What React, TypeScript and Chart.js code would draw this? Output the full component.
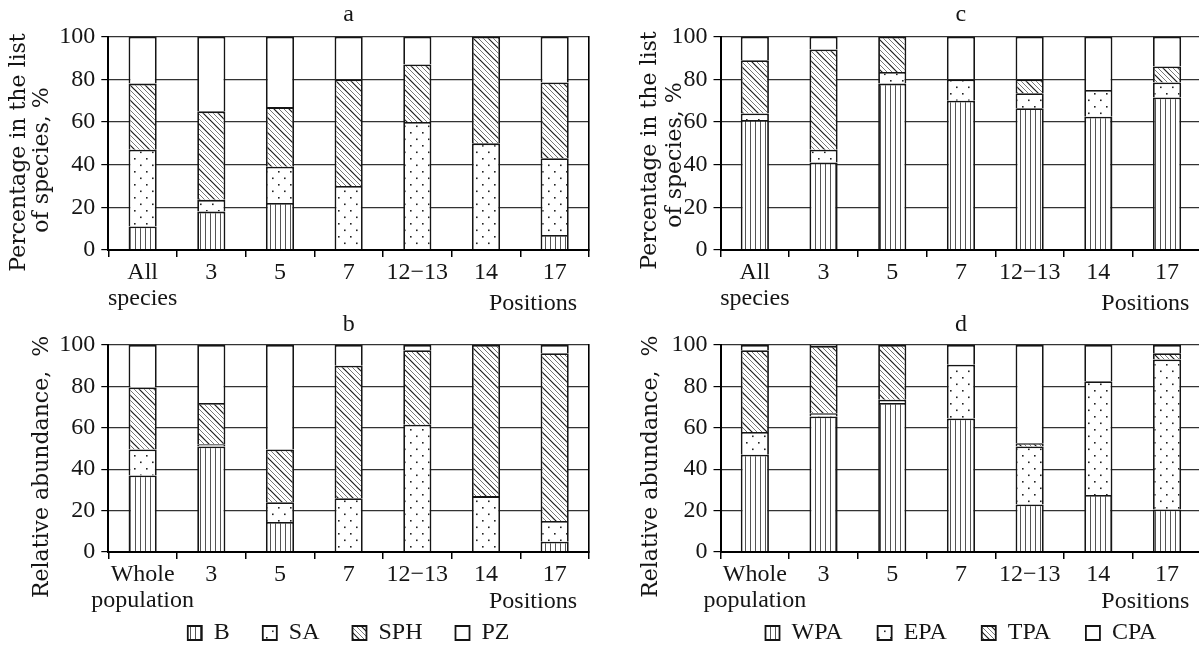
import React, { useEffect, useRef } from "react";
import { Chart, registerables } from "chart.js";

Chart.register(...registerables);

const FONT = "'Liberation Serif', 'Times New Roman', serif";
const TITLE_FONT = "'DejaVu Serif', serif";
const INK = "#151515";

// ---------- categories & legend names ----------
const speciesCategories = [["All", "species"], "3", "5", "7", "12−13", "14", "17"];
const populationCategories = [["Whole", "population"], "3", "5", "7", "12−13", "14", "17"];
const groupNames = ["B", "SA", "SPH", "PZ"];
const zoneNames = ["WPA", "EPA", "TPA", "CPA"];

// ---------- panel a: percentage in the list of species ----------
const aB = [11, 18, 22, 0, 0, 0, 7];
const aSA = [36, 5.5, 17, 30, 60, 50, 36];
const aSPH = [31, 41.5, 28, 50, 27, 50, 35.5];
const aPZ = [22, 35, 33, 20, 13, 0, 21.5];

// ---------- panel b: relative abundance ----------
const bB = [37, 51, 14.5, 0, 0, 0, 5];
const bSA = [12.5, 1, 9.5, 26, 61.5, 27, 10];
const bSPH = [30, 20, 25.5, 64, 36, 73, 81];
const bPZ = [20.5, 28, 50.5, 10, 2.5, 0, 4];

// ---------- panel c: percentage in the list of species ----------
const cWPA = [61, 41, 78, 70, 66.5, 62.5, 71.5];
const cEPA = [3, 6, 5.5, 10, 7, 12.5, 7];
const cTPA = [25, 47, 16.5, 0, 6.5, 0, 7.5];
const cCPA = [11, 6, 0, 20, 20, 25, 14];

// ---------- panel d: relative abundance ----------
const dWPA = [47, 65.5, 72, 64.5, 23, 27.5, 20.5];
const dEPA = [11, 1.5, 1.5, 26, 28, 55, 72.5];
const dTPA = [39.5, 32.5, 26.5, 0, 1.5, 0, 3];
const dCPA = [2.5, 0.5, 0, 9.5, 47.5, 17.5, 4];

// ---------- axis ----------
const yMin = 0;
const yMax = 100;
const yStep = 20;
const xAxisTitle = "Positions  ";

type VTitle = { text: string; x: number; y: number };
type PanelSpec = {
  key: string;
  title: string;
  labels: any[];
  names: string[];
  series: number[][];
  left: number;
  top: number;
  w: number;
  h: number;
  yW: number;
  rW: number;
  titlePadTop: number;
  titlePadBottom: number;
  xH: number;
  tickPad: number;
  xTitlePb: number;
  padBottom: number;
  legend: null | { padding: number; fullSize: boolean; shift: number };
  yTitles: VTitle[];
};

const panels: PanelSpec[] = [
  {
    key: "a",
    title: "a",
    labels: speciesCategories,
    names: groupNames,
    series: [aB, aSA, aSPH, aPZ],
    left: 0,
    top: 0,
    w: 600,
    h: 320,
    yW: 108.3,
    rW: 11,
    titlePadTop: 2.2,
    titlePadBottom: 8.5,
    xH: 66,
    tickPad: 3,
    xTitlePb: -0.6,
    padBottom: 4,
    legend: null,
    yTitles: [
      { text: "Percentage in the list", x: 19.1, y: 152.5 },
      { text: "of species, %", x: 42.4, y: 160 },
    ],
  },
  {
    key: "c",
    title: "c",
    labels: speciesCategories,
    names: zoneNames,
    series: [cWPA, cEPA, cTPA, cCPA],
    left: 600,
    top: 0,
    w: 612,
    h: 320,
    yW: 120.5,
    rW: 10.6,
    titlePadTop: 2.2,
    titlePadBottom: 8.5,
    xH: 66,
    tickPad: 3,
    xTitlePb: -0.6,
    padBottom: 4,
    legend: null,
    yTitles: [
      { text: "Percentage in the list", x: 50.7, y: 150.5 },
      { text: "of species, %", x: 75.7, y: 155 },
    ],
  },
  {
    key: "b",
    title: "b",
    labels: populationCategories,
    names: groupNames,
    series: [bB, bSA, bSPH, bPZ],
    left: 0,
    top: 310,
    w: 600,
    h: 373,
    yW: 108.3,
    rW: 11,
    titlePadTop: 2.2,
    titlePadBottom: 6.8,
    xH: 64,
    tickPad: 3,
    xTitlePb: 1,
    padBottom: 0,
    legend: { padding: 33, fullSize: false, shift: -28 },
    yTitles: [{ text: "Relative abundance,  %", x: 42, y: 157 }],
  },
  {
    key: "d",
    title: "d",
    labels: populationCategories,
    names: zoneNames,
    series: [dWPA, dEPA, dTPA, dCPA],
    left: 600,
    top: 310,
    w: 612,
    h: 375,
    yW: 120.5,
    rW: 10.6,
    titlePadTop: 2.2,
    titlePadBottom: 6.8,
    xH: 64,
    tickPad: 3,
    xTitlePb: 1,
    padBottom: 0,
    legend: { padding: 35, fullSize: false, shift: -30 },
    yTitles: [{ text: "Relative abundance,  %", x: 51.5, y: 156.7 }],
  },
];

function makePattern(w: number, h: number, draw: (g: CanvasRenderingContext2D) => void): CanvasPattern | string {
  const c = document.createElement("canvas");
  c.width = w;
  c.height = h;
  const g = c.getContext("2d");
  if (!g) return "#fff";
  g.fillStyle = "#ffffff";
  g.fillRect(0, 0, w, h);
  draw(g);
  const p = g.createPattern(c, "repeat");
  return p || "#fff";
}

function buildFills() {
  const vertical = makePattern(5, 5, (g) => {
    g.fillStyle = "#555";
    g.fillRect(0, 0, 1, 5);
  });
  const dots = makePattern(12, 13, (g) => {
    g.fillStyle = "#222";
    g.fillRect(2, 2, 1.6, 1.6);
    g.fillRect(8, 8.5, 1.6, 1.6);
  });
  const s = 15;
  const diagonal = makePattern(s, s, (g) => {
    for (let k = -s; k <= s; k += 5) {
      const res = ((k % s) + s) % s;
      g.strokeStyle = res === 0 ? "#1a1a1a" : "#6a6a6a";
      g.lineWidth = res === 0 ? 1.2 : 0.9;
      g.beginPath();
      g.moveTo(k - 1, -1);
      g.lineTo(k + s + 1, s + 1);
      g.stroke();
    }
  });
  return [vertical, dots, diagonal, "#ffffff"];
}

function verticalTitles(spec: PanelSpec) {
  return {
    id: "verticalTitles",
    afterDraw(chart: any) {
      const ctx: CanvasRenderingContext2D = chart.ctx;
      ctx.save();
      ctx.fillStyle = INK;
      ctx.font = `22px ${TITLE_FONT}`;
      ctx.textAlign = "center";
      ctx.textBaseline = "middle";
      spec.yTitles.forEach((t) => {
        ctx.save();
        ctx.translate(t.x, t.y);
        ctx.rotate(-Math.PI / 2);
        ctx.fillText(t.text, 0, 0);
        ctx.restore();
      });
      ctx.restore();
    },
  };
}

function legendShift(spec: PanelSpec) {
  return {
    id: "legendShift",
    afterLayout(chart: any) {
      const l = chart.legend;
      if (l && spec.legend) {
        l.top += spec.legend.shift;
        l.bottom += spec.legend.shift;
      }
    },
  };
}

function Panel({ spec }: { spec: PanelSpec }) {
  const ref = useRef<HTMLCanvasElement | null>(null);
  useEffect(() => {
    const canvas = ref.current;
    if (!canvas) return;
    const fills = buildFills();
    const tickFont = { family: FONT, size: 24, lineHeight: 1.083, weight: "normal" as const };
    const chart = new Chart(canvas, {
      type: "bar",
      data: {
        labels: spec.labels,
        datasets: spec.series.map((vals, i) => ({
          label: spec.names[i],
          data: vals,
          backgroundColor: fills[i] as any,
          borderColor: INK,
          borderWidth: 1.8,
          barPercentage: 0.41,
          categoryPercentage: 1,
        })),
      },
      options: {
        responsive: false,
        animation: false,
        devicePixelRatio: 1,
        events: [],
        layout: { padding: { left: 0, right: 0, top: 0, bottom: spec.padBottom } },
        plugins: {
          title: {
            display: true,
            text: spec.title,
            fullSize: false,
            color: INK,
            font: tickFont,
            padding: { top: spec.titlePadTop, bottom: spec.titlePadBottom },
          },
          legend: spec.legend
            ? {
                display: true,
                position: "bottom",
                fullSize: spec.legend.fullSize,
                labels: {
                  boxWidth: 14,
                  boxHeight: 14,
                  padding: spec.legend.padding,
                  color: INK,
                  font: tickFont,
                },
              }
            : { display: false },
          tooltip: { enabled: false },
        },
        scales: {
          x: {
            stacked: true,
            offset: true,
            ticks: {
              font: tickFont,
              color: INK,
              padding: spec.tickPad,
              maxRotation: 0,
              minRotation: 0,
              autoSkip: false,
            },
            grid: {
              display: true,
              drawOnChartArea: false,
              drawTicks: true,
              tickLength: 7,
              color: "#000",
              lineWidth: 1.5,
              offset: true,
            },
            border: { display: true, color: "#000", width: 2, z: 1 },
            title: {
              display: true,
              text: xAxisTitle,
              align: "end",
              color: INK,
              font: tickFont,
              padding: { top: 0, bottom: spec.xTitlePb },
            },
            afterFit: (s: any) => {
              s.height = spec.xH;
            },
          },
          y: {
            stacked: true,
            min: yMin,
            max: yMax,
            ticks: { stepSize: yStep, font: tickFont, color: INK, padding: 6 },
            grid: {
              color: "#333",
              lineWidth: 1.2,
              tickColor: "#000",
              tickLength: 7,
              drawTicks: true,
            },
            border: { display: true, color: "#000", width: 2, z: 1 },
            afterFit: (s: any) => {
              s.width = spec.yW;
            },
          },
          y2: {
            position: "right",
            display: true,
            ticks: { display: false },
            grid: { display: true, drawOnChartArea: false, drawTicks: false },
            border: { display: true, color: "#000", width: 1.6, z: 1 },
            afterFit: (s: any) => {
              s.width = spec.rW;
            },
          },
        },
      } as any,
      plugins: [verticalTitles(spec), legendShift(spec)],
    });
    return () => chart.destroy();
  }, [spec]);
  return (
    <canvas
      ref={ref}
      width={spec.w}
      height={spec.h}
      style={{ position: "absolute", left: spec.left, top: spec.top, width: spec.w, height: spec.h }}
    />
  );
}

export default function App() {
  return (
    <div
      style={{
        position: "fixed",
        left: 0,
        top: 0,
        width: 1199,
        height: 646,
        overflow: "hidden",
        background: "#ffffff",
      }}
    >
      {panels.map((p) => (
        <Panel key={p.key} spec={p} />
      ))}
    </div>
  );
}
